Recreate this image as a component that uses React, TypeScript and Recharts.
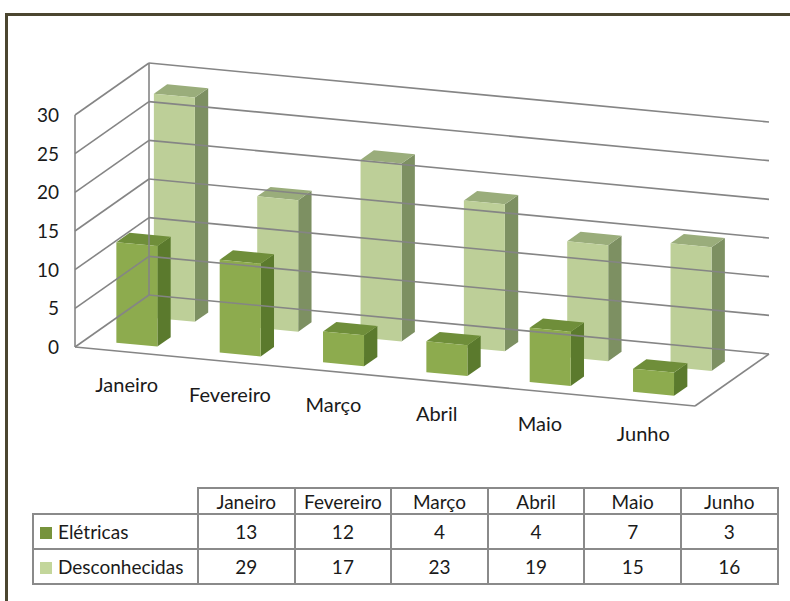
import React from "react";
import { Bar, BarChart, XAxis, YAxis } from "recharts";

const months = ["Janeiro", "Fevereiro", "Março", "Abril", "Maio", "Junho"];
const eletricas = [13, 12, 4, 4, 7, 3];
const desconhecidas = [29, 17, 23, 19, 15, 16];
const yTicks = [0, 5, 10, 15, 20, 25, 30];

const data = months.map((month, i) => ({
  month,
  eletricas: eletricas[i],
  desconhecidas: desconhecidas[i]
}));

// oblique "3D" frame: flat plot box gets sheared and pushed back in depth
const PLOT_LEFT = 75;
const PLOT_RIGHT = 695;
const PLOT_TOP = 115;
const PLOT_BOTTOM = 347;
const SHEAR = 59 / 620;
const DEPTH_X = 74;
const DEPTH_Y = -52;
const FONT = "Lato, 'Open Sans', sans-serif";
const GRID = "#858585";
const TEXT = "#1a1a1a";

function proj(px: number, py: number, f: number): [number, number] {
  return [px + f * DEPTH_X, py + (px - PLOT_LEFT) * SHEAR + f * DEPTH_Y];
}

const pts = (list: [number, number][]) => list.map((p) => p.join(",")).join(" ");

function makeBox(f0: number, f1: number, dx: number, front: string, top: string, side: string) {
  return (props: any) => {
    const { y, width: w, height: h } = props;
    const x = props.x + dx;
    if (h == null || w == null) return <g />;
    const fTL = proj(x, y, f0);
    const fTR = proj(x + w, y, f0);
    const fBR = proj(x + w, y + h, f0);
    const fBL = proj(x, y + h, f0);
    const bTL = proj(x, y, f1);
    const bTR = proj(x + w, y, f1);
    const bBR = proj(x + w, y + h, f1);
    return (
      <g>
        <polygon points={pts([fTR, bTR, bBR, fBR])} fill={side} />
        <polygon points={pts([fTL, fTR, bTR, bTL])} fill={top} />
        <polygon points={pts([fTL, fTR, fBR, fBL])} fill={front} />
      </g>
    );
  };
}

const frontBox = makeBox(0.14, 0.32, 0, "#8dab4e", "#6f8e3a", "#5b7a2d");
const backBox = makeBox(0.62, 0.8, 2, "#bdcf98", "#9aad7b", "#7d9062");

function YTick(props: any) {
  const { y, payload } = props;
  const [bx, by] = proj(PLOT_LEFT, y, 1);
  const [rx, ry] = proj(PLOT_RIGHT, y, 1);
  const [fx, fy] = proj(PLOT_RIGHT, y, 0);
  return (
    <g>
      <line x1={PLOT_LEFT} y1={y} x2={bx} y2={by} stroke={GRID} strokeWidth={1.6} />
      <line x1={bx} y1={by} x2={rx} y2={ry} stroke={GRID} strokeWidth={1.6} />
      {payload.value === 0 && (
        <>
          <line x1={PLOT_LEFT} y1={y} x2={fx} y2={fy} stroke={GRID} strokeWidth={1.6} />
          <line x1={fx} y1={fy} x2={rx} y2={ry} stroke={GRID} strokeWidth={1.6} />
        </>
      )}
      {payload.value === 30 && (
        <>
          <line x1={PLOT_LEFT} y1={y} x2={PLOT_LEFT} y2={PLOT_BOTTOM} stroke={GRID} strokeWidth={1.6} />
          <line x1={bx} y1={by} x2={bx} y2={PLOT_BOTTOM + DEPTH_Y} stroke={GRID} strokeWidth={1.6} />
        </>
      )}
      <text x={59} y={y + 7} textAnchor="end" fontSize={19} fontFamily={FONT} fill={TEXT}>
        {payload.value}
      </text>
    </g>
  );
}

function XTick(props: any) {
  const { x, payload } = props;
  const ty = PLOT_BOTTOM + (x - PLOT_LEFT) * SHEAR + 40;
  return (
    <text x={x} y={ty} textAnchor="middle" fontSize={20} fontFamily={FONT} fill={TEXT}>
      {payload.value}
    </text>
  );
}

const cell: React.CSSProperties = {
  border: "2px solid #8a8a8a",
  textAlign: "center",
  padding: 0,
  whiteSpace: "nowrap"
};

const labelCell: React.CSSProperties = {
  ...cell,
  textAlign: "left",
  paddingLeft: 6
};

export default function App() {
  return (
    <div style={{ position: "absolute", left: 0, top: 0, width: 790, height: 601, background: "#fff" }}>
      <div
        style={{
          position: "absolute",
          left: 5,
          top: 13,
          width: 785,
          height: 588,
          borderTop: "3px solid #4b4630",
          borderLeft: "3px solid #4b4630",
          boxSizing: "border-box"
        }}
      />
      <div style={{ position: "absolute", left: 0, top: 0 }}>
        <BarChart
          width={790}
          height={470}
          data={data}
          margin={{ top: PLOT_TOP, right: 790 - PLOT_RIGHT, left: 0, bottom: 0 }}
        >
          <YAxis
            type="number"
            domain={[0, 30]}
            ticks={yTicks}
            interval={0}
            width={PLOT_LEFT}
            axisLine={false}
            tickLine={false}
            tick={<YTick />}
            zIndex={-100}
          />
          <XAxis
            xAxisId="front"
            dataKey="month"
            height={470 - PLOT_BOTTOM}
            axisLine={false}
            tickLine={false}
            interval={0}
            tick={<XTick />}
          />
          <XAxis xAxisId="back" dataKey="month" hide />
          <Bar
            dataKey="desconhecidas"
            name="Desconhecidas"
            xAxisId="back"
            barSize={41}
            shape={backBox}
            isAnimationActive={false}
          />
          <Bar
            dataKey="eletricas"
            name="Elétricas"
            xAxisId="front"
            barSize={41}
            shape={frontBox}
            isAnimationActive={false}
          />
        </BarChart>
      </div>
      <table
        style={{
          position: "absolute",
          left: 32,
          top: 487,
          width: 745,
          tableLayout: "fixed",
          borderCollapse: "collapse",
          fontFamily: FONT,
          fontSize: 19,
          color: TEXT
        }}
      >
        <colgroup>
          <col style={{ width: 165 }} />
          {months.map((m) => (
            <col key={m} style={{ width: 96.6 }} />
          ))}
        </colgroup>
        <tbody>
          <tr style={{ height: 26 }}>
            <td style={{ padding: 0 }} />
            {months.map((m) => (
              <td key={m} style={cell}>
                {m}
              </td>
            ))}
          </tr>
          <tr style={{ height: 35 }}>
            <td style={labelCell}>
              <span
                style={{ display: "inline-block", width: 12, height: 12, background: "#77933c", marginRight: 6 }}
              />
              Elétricas
            </td>
            {eletricas.map((v, i) => (
              <td key={i} style={cell}>
                {v}
              </td>
            ))}
          </tr>
          <tr style={{ height: 35 }}>
            <td style={labelCell}>
              <span
                style={{ display: "inline-block", width: 12, height: 12, background: "#c3d69b", marginRight: 6 }}
              />
              Desconhecidas
            </td>
            {desconhecidas.map((v, i) => (
              <td key={i} style={cell}>
                {v}
              </td>
            ))}
          </tr>
        </tbody>
      </table>
    </div>
  );
}
